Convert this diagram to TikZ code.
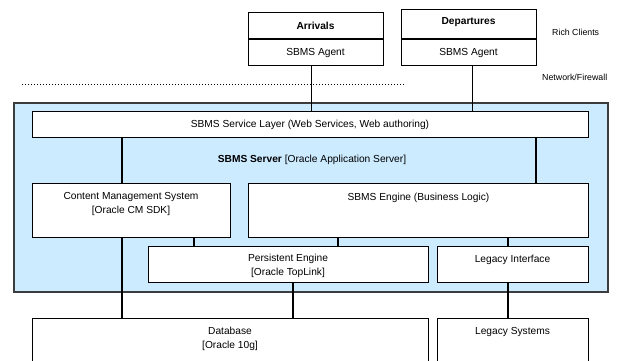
\documentclass[tikz,border=0pt]{standalone}
\usepackage{fontspec}
\setmainfont{Liberation Sans}
\definecolor{srvblue}{RGB}{204,235,255}
\definecolor{srvedge}{RGB}{60,60,60}
\tikzset{
  box/.style={draw=black, line width=1.3pt, fill=white, inner sep=0pt, anchor=north west},
  outer/.style={draw=srvedge, line width=1.6pt, fill=srvblue, inner sep=0pt, anchor=north west},
  conn/.style={draw=black, line width=1.2pt},
  txt/.style={font=\fontsize{10.2}{14}\selectfont, align=center, inner sep=0pt},
  side/.style={font=\fontsize{8.8}{11}\selectfont, inner sep=0pt}
}
\begin{document}
\begin{tikzpicture}[x=1pt,y=-1pt]
\useasboundingbox (0,0) rectangle (621,360);
% outer server box
\node[outer, minimum width=594pt, minimum height=189pt] (srv) at (13,102) {};
% clients
\node[box, minimum width=135pt, minimum height=53pt] (arr) at (248,12) {};
\node[box, minimum width=135pt, minimum height=56pt] (dep) at (401,9) {};
\draw[conn] (arr.west |- 0,39) -- (arr.east |- 0,39);
\draw[conn] (dep.west |- 0,39) -- (dep.east |- 0,39);
% inner boxes
\node[box, minimum width=556pt, minimum height=26pt] (svc) at (32,111) {};
\node[box, minimum width=198pt, minimum height=54pt] (cms) at (32,183) {};
\node[box, minimum width=340pt, minimum height=54pt] (eng) at (248,183) {};
\node[box, minimum width=280pt, minimum height=36pt] (pers) at (148,246) {};
\node[box, minimum width=151pt, minimum height=36pt] (legi) at (437,246) {};
\node[box, minimum width=396pt, minimum height=50pt] (db) at (32,318) {};
\node[box, minimum width=151pt, minimum height=50pt] (legs) at (437,318) {};
% dotted firewall line
\coordinate (fwA) at (22,84);
\coordinate (fwB) at (405,84);
\draw[line width=0.9pt, dash pattern=on 0.9pt off 2.1pt] (fwA) -- (fwB);
% connectors
\draw[conn] ([xshift=-4.5pt]arr.south) -- ([xshift=-4.5pt]arr.south |- svc.north);
\draw[conn] ([xshift=3.5pt]dep.south) -- ([xshift=3.5pt]dep.south |- svc.north);
\draw[conn] (svc.south -| 122,0) -- (cms.north -| 122,0);
\draw[conn] (svc.south -| 536,0) -- (eng.north -| 536,0);
\draw[conn] (cms.south -| 194,0) -- (pers.north -| 194,0);
\draw[conn] (eng.south -| 338,0) -- (pers.north -| 338,0);
\draw[conn] (eng.south -| 508,0) -- (legi.north -| 508,0);
\draw[conn] (cms.south -| 122,0) -- (db.north -| 122,0);
\draw[conn] (pers.south -| 293,0) -- (db.north -| 293,0);
\draw[conn] (legi.south -| 508,0) -- (legs.north -| 508,0);
% texts
\node[txt, font=\fontsize{10.2}{14}\selectfont\bfseries] (tarr) at (315.5,25.5) {Arrivals};
\node[txt] (tarr2) at (315.5,52.5) {SBMS Agent};
\node[txt, font=\fontsize{10.2}{14}\selectfont\bfseries] (tdep) at (468.5,22.5) {Departures};
\node[txt] (tdep2) at (468.5,52.5) {SBMS Agent};
\node[side, anchor=west] (rich) at (552,32.5) {Rich Clients};
\node[side, anchor=west] (net) at (542,77.5) {Network/Firewall};
\node[txt] (tsvc) at (310,124.5) {SBMS Service Layer (Web Services, Web authoring)};
\node[txt] (tsrv) at (312,159.5) {\textbf{SBMS Server} [Oracle Application Server]};
\node[txt] (tcms) at (131,203.5) {Content Management System\\{}[Oracle CM SDK]};
\node[txt] (teng) at (418.5,197.5) {SBMS Engine (Business Logic)};
\node[txt] (tpers) at (288,266) {Persistent Engine\\{}[Oracle TopLink]};
\node[txt] (tlegi) at (512.5,259.5) {Legacy Interface};
\node[txt] (tdb) at (230,338.5) {Database\\{}[Oracle 10g]};
\node[txt] (tlegs) at (512.5,331.5) {Legacy Systems};
\end{tikzpicture}
\end{document}
